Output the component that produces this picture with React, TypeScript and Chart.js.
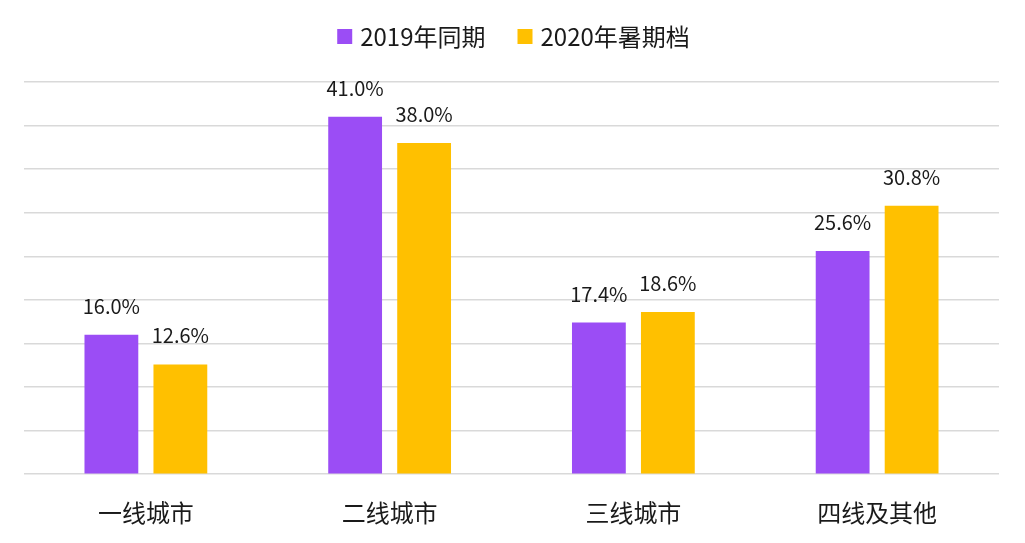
import React, { useEffect, useRef } from "react";
import { Chart, registerables } from "chart.js";

Chart.register(...registerables);

const categories = ["一线城市", "二线城市", "三线城市", "四线及其他"];
const seriesNames = ["2019年同期", "2020年暑期档"];
const values2019 = [16.0, 41.0, 17.4, 25.6];
const values2020 = [12.6, 38.0, 18.6, 30.8];
const colors = ["#9B4DF5", "#FFC000"];

const FONT = "'Noto Sans CJK SC', 'Noto Sans', sans-serif";
const TEXT = "#1a1a1a";

const labelPlugin = {
  id: "barLabels",
  afterDatasetsDraw(chart: any) {
    const ctx = chart.ctx;
    ctx.save();
    ctx.font = `20px ${FONT}`;
    ctx.fillStyle = TEXT;
    ctx.textAlign = "center";
    ctx.textBaseline = "alphabetic";
    chart.data.datasets.forEach((ds: any, i: number) => {
      const meta = chart.getDatasetMeta(i);
      meta.data.forEach((bar: any, j: number) => {
        ctx.fillText(ds.data[j].toFixed(1) + "%", bar.x, bar.y - 21);
      });
    });
    ctx.restore();
  },
};

const legendPlugin = {
  id: "customLegend",
  afterDraw(chart: any) {
    const ctx = chart.ctx;
    ctx.save();
    ctx.font = `24px ${FONT}`;
    const box = 15;
    const gapText = 8;
    const gapItem = 32;
    const items = chart.data.datasets.map((ds: any) => ({
      text: ds.label,
      color: ds.backgroundColor,
      w: ctx.measureText(ds.label).width,
    }));
    const total = items.reduce((s: number, it: any) => s + box + gapText + it.w, 0) + gapItem * (items.length - 1);
    let x = (chart.chartArea.left + chart.chartArea.right) / 2 - total / 2 + 2;
    const cy = 36.5;
    ctx.textBaseline = "middle";
    ctx.textAlign = "left";
    items.forEach((it: any) => {
      ctx.fillStyle = it.color;
      ctx.fillRect(x, cy - box / 2, box, box);
      x += box + gapText;
      ctx.fillStyle = TEXT;
      ctx.fillText(it.text, x, cy);
      x += it.w + gapItem;
    });
    ctx.restore();
  },
};

export default function App() {
  const ref = useRef<HTMLCanvasElement>(null);
  useEffect(() => {
    const chart = new Chart(ref.current!, {
      type: "bar",
      data: {
        labels: categories,
        datasets: [
          { label: seriesNames[0], data: values2019, backgroundColor: colors[0] },
          { label: seriesNames[1], data: values2020, backgroundColor: colors[1] },
        ],
      },
      options: {
        animation: false,
        responsive: false,
        maintainAspectRatio: false,
        layout: { padding: { left: 24, right: 26, top: 82, bottom: 0 } },
        datasets: { bar: { categoryPercentage: 0.566, barPercentage: 0.78 } },
        plugins: {
          legend: { display: false },
          tooltip: { enabled: false },
        },
        scales: {
          x: {
            grid: { display: false },
            border: { display: false },
            ticks: { color: TEXT, font: { family: FONT, size: 24 }, padding: 16 },
          },
          y: {
            min: 0,
            max: 45,
            ticks: { display: false, stepSize: 5 },
            grid: { color: "#d9d9d9", lineWidth: 1.5, drawTicks: false },
            border: { display: false },
          },
        },
      },
      plugins: [labelPlugin, legendPlugin],
    });
    return () => chart.destroy();
  }, []);
  return (
    <div style={{ position: "fixed", left: 0, top: 0, width: 1025, height: 543, background: "#fff" }}>
      <canvas ref={ref} width={1025} height={543} />
    </div>
  );
}
